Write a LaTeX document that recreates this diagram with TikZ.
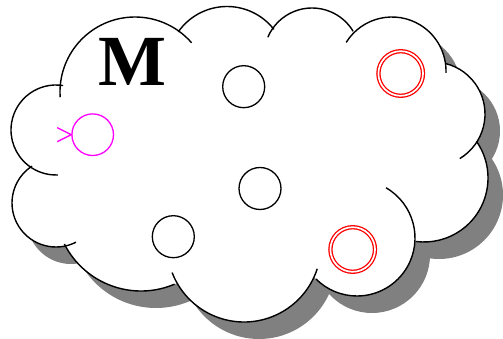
\documentclass[tikz,border=0pt]{standalone}
\usepackage{fontspec}
\setmainfont{Liberation Serif}
\usetikzlibrary{calc}
\definecolor{initmag}{RGB}{255,0,255}
\definecolor{accred}{RGB}{255,0,0}
\definecolor{shadowgray}{RGB}{128,128,128}
\begin{document}
\begin{tikzpicture}[x=1pt,y=-1pt,
  puff/.style={line width=1.4pt},
  shadowfill/.style={fill=shadowgray},
  cloudfill/.style={fill=white},
  state/.style={circle, draw, line width=1.3pt, minimum size=42pt, inner sep=0pt},
  initstate/.style={state, draw=initmag, minimum size=41.6pt},
  accept/.style={circle, draw=accred, line width=1.3pt, double=white, double distance=1.7pt, minimum size=44.6pt, inner sep=0pt},
  initmark/.style={draw=initmag, line width=1.3pt}]
\useasboundingbox (0,0) rectangle (503,339);
% shadow
\begin{scope}[shift={(15,17)}]
  \foreach \cx/\cy/\r in {135/92/75,227/66/59.5,312/56/48,392/71/54,433/114/52,424/178/64,357/238/58,244/245/77,141/205/86,56/203/44,56/130/45}
    \fill[shadowfill] (\cx,\cy) circle[radius=\r];
  \fill[shadowfill] (135,92) -- (227,66) -- (312,56) -- (392,71) -- (433,114) -- (424,178) -- (357,238) -- (244,245) -- (141,205) -- (56,203) -- (56,130) -- cycle;
\end{scope}
% cloud body
\foreach \cx/\cy/\r in {135/92/75,227/66/59.5,312/56/48,392/71/54,433/114/52,424/178/64,357/238/58,244/245/77,141/205/86,56/203/44,56/130/45}
  \fill[cloudfill] (\cx,\cy) circle[radius=\r];
\fill[cloudfill] (135,92) -- (227,66) -- (312,56) -- (392,71) -- (433,114) -- (424,178) -- (357,238) -- (244,245) -- (141,205) -- (56,203) -- (56,130) -- cycle;
% cloud outline arcs
\foreach \cx/\cy/\r/\a/\b in {135/92/75/176/319, 227/66/59.5/215/322, 312/56/48/203/329, 392/71/54/212/362, 433/114/52/284/419, 424/178/64/325/457, 357/238/58/300/495, 244/245/77/18/159, 141/205/86/67/153, 56/203/44/237/63, 56/130/45/279/87.5}
  \draw[puff] (\cx,\cy) ++(\a:\r) arc[start angle=\a, end angle=\b, radius=\r];
% label
\node[inner sep=0pt, font=\fontsize{72}{72}\selectfont\bfseries] (lbl) at (132,62.3) {M};
% states
\node[initstate] (s0) at (92.7,134.7) {};
\node[state] (s1) at (243.7,86.7) {};
\node[state] (s2) at (260,188.5) {};
\node[state] (s3) at (173.3,236.7) {};
\node[accept] (f1) at (400.7,73.5) {};
\node[accept] (f2) at (352.7,249.5) {};
% initial marker
\draw[initmark] ($(s0.west)+(-14,-7)$) -- (s0.west) -- ($(s0.west)+(-14,7)$);
\end{tikzpicture}
\end{document}
